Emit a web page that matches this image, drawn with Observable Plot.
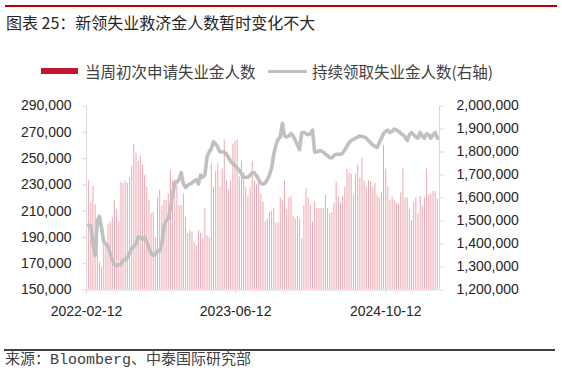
<!DOCTYPE html>
<html><head><meta charset="utf-8">
<script src="https://cdn.jsdelivr.net/npm/d3@7"></script>
<script src="https://cdn.jsdelivr.net/npm/@observablehq/plot@0.6"></script>
<style>
body{margin:0;background:#fff;}
#wrap{position:relative;width:562px;height:376px;overflow:hidden;font-family:"Noto Sans CJK SC",sans-serif;color:#333;}
#topline{position:absolute;left:5px;top:5px;width:552px;height:2px;background:#c00000;}
#title{position:absolute;left:6px;top:12px;font-size:16px;line-height:20px;white-space:nowrap;color:#262626;}
#legend{position:absolute;left:0;top:61px;height:20px;font-size:15.5px;line-height:20px;white-space:nowrap;color:#404040;}
#legend .sw{position:absolute;}
#legend .tx{position:absolute;top:0;}
#chart{position:absolute;left:0;top:90px;}
#rule{position:absolute;left:4px;top:349px;width:551px;height:2px;background:#404040;}
#source{position:absolute;left:5px;top:351px;font-size:15px;line-height:20px;white-space:nowrap;font-family:"Liberation Mono","Noto Sans CJK SC",monospace;color:#404040;}
</style></head><body>
<div id="wrap">
  <div id="topline"></div>
  <div id="title">图表 25：新领失业救济金人数暂时变化不大</div>
  <div id="legend"></div>
  <div id="chart"></div>
  <div id="rule"></div>
  <div id="source">来源：Bloomberg、中泰国际研究部</div>
</div>
<script>
// ---- data ----
const seriesNames = ["当周初次申请失业金人数", "持续领取失业金人数(右轴)"];
const firstWeek = "2022-02-19"; // weekly observations
// initial claims, thousands (left axis)
const initialClaims = [
233,216,229,215,188,171,167,185,184,200,202,205,218,211,202,232,231,233,231,235,244,261,254,248,252,245,237,228,218,208,209,190,220,226,214,218,218,223,241,233,234,230,214,214,223,205,193,195,194,186,184,195,193,
189,212,191,190,246,228,240,246,228,242,264,233,226,233,261,263,264,236,248,239,228,221,228,248,233,230,237,223,217,202,204,209,210,
212,201,201,220,218,233,211,220,221,206,204,206,204,189,214,227,220,214,202,217,212,212,212,212,222,212,208,209,216,232,221,216,221,228,242,239,238,222,238,245,235,250,
233,228,233,232,228,231,222,220,224,260,242,228,218,221,218,216,215,224,242,220,220,211,203,217,220,208,221,214,220,242,222,223,225,225,219
];
// continued claims, millions (right axis)
const continuedClaims = [
1.48,1.48,1.40,1.35,1.50,1.52,1.47,1.41,1.40,1.39,1.36,1.33,1.31,1.305,1.31,1.31,1.33,1.33,1.34,1.36,1.38,1.39,1.40,1.43,1.43,1.42,1.43,1.41,1.38,1.36,1.35,1.355,1.37,1.37,1.40,1.48,1.50,1.51,1.55,1.62,1.665,1.67,1.68,
1.71,1.66,1.645,1.655,1.66,1.665,1.675,1.68,1.66,1.70,
1.69,1.70,1.78,1.80,1.815,1.845,1.835,1.82,1.80,1.80,
1.80,1.79,1.775,1.76,1.75,1.74,1.73,1.72,1.705,1.69,
1.69,1.69,1.70,1.71,1.71,1.695,1.68,1.665,1.66,1.665,
1.68,1.70,1.73,1.79,1.83,1.855,1.865,1.925,1.87,1.865,
1.87,1.88,1.87,1.85,1.83,1.81,1.885,1.885,1.88,1.875,
1.88,1.895,1.80,1.80,1.805,1.805,1.80,1.79,1.785,1.775,
1.775,1.785,1.79,1.79,1.79,1.795,1.81,1.825,1.84,1.85,
1.855,1.86,1.865,1.87,1.867,1.865,1.86,1.85,1.84,1.83,
1.825,1.82,1.84,
1.86,1.88,1.89,1.895,1.885,1.89,1.90,1.895,1.89,1.88,1.875,1.865,1.85,1.875,1.885,1.875,1.865,1.86,1.885,1.87,1.86,1.88,1.875,1.86,1.875,1.885,1.86
];
const leftTicks = [150,170,190,210,230,250,270,290];          // thousands
const rightTicks = [1.2,1.3,1.4,1.5,1.6,1.7,1.8,1.9,2.0];      // millions
const xTicks = ["2022-02-12","2023-06-12","2024-10-12"];
const xDomain = ["2022-02-12","2025-04-05"];

// ---- build ----
const colors = {bar:"#eda7b0", barLegend:"#c0172e", line:"#c0c0c0"};
const L0 = leftTicks[0], L1 = leftTicks[leftTicks.length-1];
const R0 = rightTicks[0], R1 = rightTicks[rightTicks.length-1];
const toLeft = v => L0 + (v - R0) * (L1 - L0) / (R1 - R0);
const fromLeft = y => R0 + (y - L0) * (R1 - R0) / (L1 - L0);
const parse = d3.utcParse("%Y-%m-%d");
const start = parse(firstWeek);
const data = initialClaims.map((v, i) => ({date: d3.utcDay.offset(start, 7 * i), ic: v, cc: continuedClaims[i]}));
const xd = xDomain.map(parse);
const fmt = d3.format(",");

const chart = Plot.plot({
  width: 562, height: 235,
  marginLeft: 86, marginRight: 123, marginTop: 15.5, marginBottom: 35.5,
  x: {type: "utc", domain: xd, label: null},
  y: {domain: [L0, L1], label: null},
  style: {fontFamily: "'Liberation Sans', Arial, sans-serif", fontSize: "14px", color: "#333", background: "transparent"},
  marks: [
    Plot.ruleX(data, {x: "date", y1: L0, y2: "ic", stroke: colors.bar, strokeWidth: 1}),
    Plot.line(data, {x: "date", y: d => toLeft(d.cc), stroke: colors.line, strokeWidth: 3.6, strokeLinejoin: "round"}),
    Plot.ruleY([L0], {stroke: "#d9d9d9"}),
    Plot.ruleX(xd, {stroke: "#d9d9d9"}),
    Plot.axisY(leftTicks, {anchor: "left", tickSize: 4, tickPadding: 11, stroke: "#d9d9d9", fill: "#262626", label: null, tickFormat: d => fmt(d * 1000)}),
    Plot.axisY(rightTicks.map(toLeft), {anchor: "right", tickSize: 4, tickPadding: 13, stroke: "#d9d9d9", fill: "#262626", label: null, tickFormat: d => fmt(Math.round(fromLeft(d) * 1e6))}),
    Plot.axisX(xTicks.map(parse), {tickSize: 4, tickPadding: 12.5, stroke: "#d9d9d9", fill: "#262626", label: null, tickFormat: d3.utcFormat("%Y-%m-%d")})
  ]
});
document.getElementById("chart").appendChild(chart);

// legend
const lg = document.getElementById("legend");
lg.innerHTML =
  `<div class="sw" style="left:41px;top:7px;width:37px;height:6px;background:${colors.barLegend}"></div>` +
  `<div class="tx" style="left:85px">${seriesNames[0]}</div>` +
  `<div class="sw" style="left:268px;top:8.5px;width:39px;height:3px;background:${colors.line}"></div>` +
  `<div class="tx" style="left:312px">${seriesNames[1]}</div>`;
</script>
</body></html>
